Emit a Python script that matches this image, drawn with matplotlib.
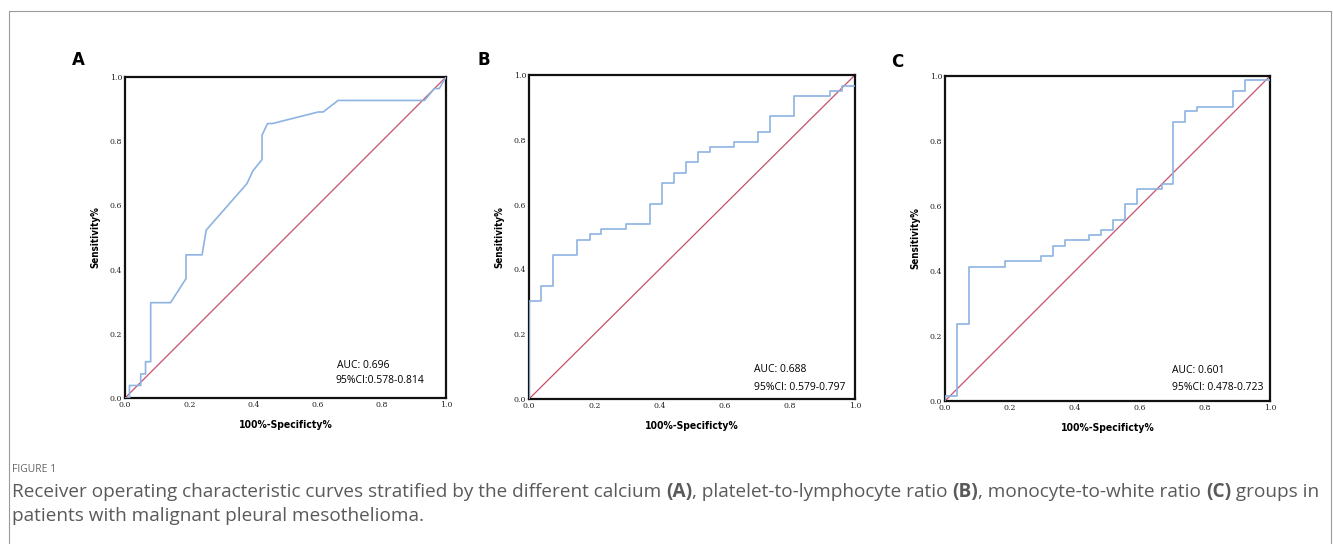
import matplotlib
matplotlib.use("Agg")
import matplotlib.pyplot as plt
from matplotlib.lines import Line2D

# ROC points
fpr_a = [0.0, 0.014, 0.014, 0.049, 0.049, 0.064, 0.064, 0.080, 0.080, 0.142, 0.190, 0.190,
         0.240, 0.253, 0.380, 0.398, 0.427, 0.427, 0.444, 0.459, 0.602, 0.617, 0.664,
         0.933, 0.964, 0.979, 1.0]
tpr_a = [0.0, 0.0, 0.039, 0.039, 0.075, 0.075, 0.113, 0.113, 0.297, 0.297, 0.372, 0.446,
         0.446, 0.523, 0.668, 0.707, 0.743, 0.819, 0.855, 0.855, 0.891, 0.891, 0.927,
         0.927, 0.964, 0.964, 1.0]

fpr_b = [0.0, 0.0, 0.036, 0.036, 0.074, 0.074, 0.148, 0.148, 0.186, 0.186, 0.222, 0.222,
         0.297, 0.297, 0.371, 0.371, 0.407, 0.407, 0.444, 0.444, 0.481, 0.481, 0.519,
         0.519, 0.555, 0.555, 0.629, 0.629, 0.703, 0.703, 0.739, 0.739, 0.814, 0.814,
         0.923, 0.923, 0.961, 0.961, 1.0]
tpr_b = [0.0, 0.301, 0.301, 0.349, 0.349, 0.445, 0.445, 0.491, 0.491, 0.508, 0.508, 0.524,
         0.524, 0.541, 0.541, 0.603, 0.603, 0.666, 0.666, 0.698, 0.698, 0.730, 0.730,
         0.762, 0.762, 0.777, 0.777, 0.792, 0.792, 0.824, 0.824, 0.872, 0.872, 0.935,
         0.935, 0.951, 0.951, 0.967, 0.967]

fpr_c = [0.0, 0.0, 0.038, 0.038, 0.074, 0.074, 0.185, 0.185, 0.295, 0.295, 0.333, 0.333,
         0.369, 0.369, 0.443, 0.443, 0.480, 0.480, 0.518, 0.518, 0.555, 0.555, 0.591,
         0.591, 0.667, 0.667, 0.703, 0.703, 0.739, 0.739, 0.774, 0.774, 0.887, 0.887,
         0.924, 0.924, 1.0]
tpr_c = [0.0, 0.015, 0.015, 0.238, 0.238, 0.413, 0.413, 0.431, 0.431, 0.446, 0.446, 0.478,
         0.478, 0.494, 0.494, 0.510, 0.510, 0.526, 0.526, 0.557, 0.557, 0.605, 0.605,
         0.652, 0.652, 0.668, 0.668, 0.860, 0.860, 0.891, 0.891, 0.906, 0.906, 0.955,
         0.955, 0.987, 0.987]

panel_letters = ["A", "B", "C"]
auc_text = ["AUC: 0.696", "AUC: 0.688", "AUC: 0.601"]
ci_text = ["95%CI:0.578-0.814", "95%CI: 0.579-0.797", "95%CI: 0.478-0.723"]
ticks = [0.0, 0.2, 0.4, 0.6, 0.8, 1.0]

W, H = 1333, 544
fig = plt.figure(figsize=(W / 100, H / 100), dpi=100)

def px_axes(l, t, r, b):
    return fig.add_axes([l / W, 1 - b / H, (r - l) / W, (b - t) / H])

boxes = [(125, 77, 446, 398), (529, 75, 855, 399), (945, 76, 1270, 401)]
letter_pos = [(78, 60), (484, 60), (897, 62)]
curves = [(fpr_a, tpr_a), (fpr_b, tpr_b), (fpr_c, tpr_c)]
# where the AUC / CI text sits, in axes fractions
txt_pos = [((0.66, 0.10), (0.657, 0.053)),
           ((0.69, 0.09), (0.69, 0.037)),
           ((0.70, 0.095), (0.697, 0.043))]

blue = "#8db3e2"
red = "#c4506a"

for i, box in enumerate(boxes):
    ax = px_axes(*box)
    fx, ty = curves[i]
    ax.plot([0, 1], [0, 1], color=red, lw=0.9, zorder=2)
    ax.plot(fx, ty, color=blue, lw=1.2, zorder=3)
    ax.set_xlim(0, 1)
    ax.set_ylim(0, 1)
    ax.set_xticks(ticks)
    ax.set_yticks(ticks)
    ax.set_xticklabels([f"{t:.1f}" for t in ticks])
    ax.set_yticklabels([f"{t:.1f}" for t in ticks])
    ax.tick_params(length=0, labelsize=5.6, pad=2, colors="#222222")
    for lab in ax.get_xticklabels() + ax.get_yticklabels():
        lab.set_family("DejaVu Serif")
    for s in ax.spines.values():
        s.set_linewidth(1.6)
        s.set_color("#111111")
    ax.set_ylabel("Sensitivity%", fontsize=7, fontweight="bold", labelpad=7,
                  family="DejaVu Sans", fontstretch="condensed")
    ax.set_xlabel("100%-Specificty%", fontsize=7.5, fontweight="bold",
                  family="DejaVu Sans", fontstretch="condensed", labelpad=8)
    (ax1, ay1), (ax2, ay2) = txt_pos[i]
    ax.text(ax1, ay1, auc_text[i], transform=ax.transAxes, fontsize=7.5,
            family="Open Sans", va="center")
    ax.text(ax2, ay2, ci_text[i], transform=ax.transAxes, fontsize=7.5,
            family="Open Sans", va="center")
    fig.text(letter_pos[i][0] / W, 1 - letter_pos[i][1] / H, panel_letters[i],
             fontsize=12, fontweight="bold", ha="center", va="center")

# figure frame
frame_col = "#9a9a9a"
fig.add_artist(Line2D([9 / W, 9 / W, 1331 / W, 1331 / W],
                      [0, 1 - 11 / H, 1 - 11 / H, 0],
                      transform=fig.transFigure, color=frame_col, lw=0.8))

# caption
cap_col = "#5a5a5a"
cap_font = "Open Sans"
fig.text(12 / W, 1 - 469 / H, "FIGURE 1", fontsize=7.5, color="#666666",
         family=cap_font, va="center")

renderer = fig.canvas.get_renderer()

def run_text(x, y, parts, size):
    # lay out bold / regular pieces one after another on a line
    cur = x
    for txt, bold in parts:
        t = fig.text(cur / W, 1 - y / H, txt, fontsize=size, color=cap_col,
                     family=cap_font, fontweight="bold" if bold else "normal",
                     va="baseline", ha="left")
        bb = t.get_window_extent(renderer)
        cur = bb.x1
    return cur

line1 = [("Receiver operating characteristic curves stratified by the different calcium ", False),
         ("(A)", True), (", platelet-to-lymphocyte ratio ", False), ("(B)", True),
         (", monocyte-to-white ratio ", False), ("(C)", True), (" groups in", False)]
line2 = [("patients with malignant pleural mesothelioma.", False)]

# pick the caption size so line 1 ends where it does in the reference
probe = fig.text(0, 0, "".join(p[0] for p in line1), fontsize=10, family=cap_font)
w10 = probe.get_window_extent(renderer).width
probe.remove()
cap_size = 10 * (1316 - 12) / w10

run_text(12, 497, line1, cap_size)
run_text(12, 521, line2, cap_size)

fig.savefig("out.png", dpi=100)
